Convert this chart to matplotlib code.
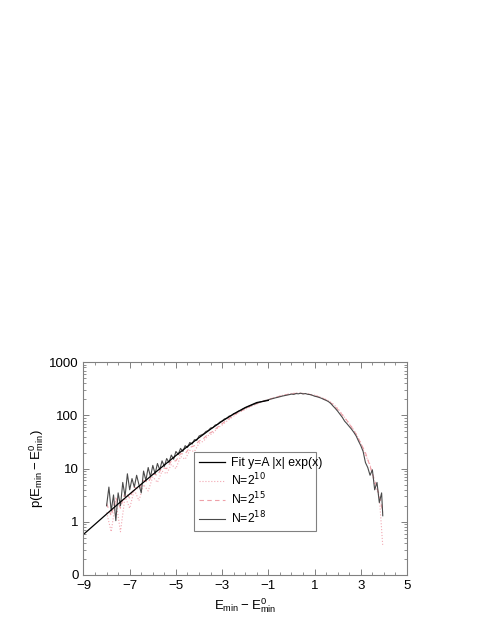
import numpy as np
import matplotlib
matplotlib.use("Agg")
import matplotlib.pyplot as plt
from matplotlib.ticker import MultipleLocator, FixedLocator, LogLocator, NullFormatter

plt.rcParams["font.family"] = ["Liberation Sans", "DejaVu Sans"]

# fit curve y = A |x| exp(x)
fit_x = [-9.0, -8.5, -8.0, -7.5, -7.0, -6.5, -6.0, -5.5, -5.0, -4.5,
         -4.0, -3.5, -3.0, -2.5, -2.0, -1.5, -1.0]
fit_y = [0.58, 0.90, 1.40, 2.17, 3.33, 5.10, 7.76, 11.7, 17.6, 26.1,
         38.2, 55.2, 78.0, 107, 141, 175, 192]

# N=2^18 (grey solid), bins of 0.1 from -8.0, last bin at 3.95
n18_x = list(np.round(np.arange(-8.0, 3.91, 0.1), 2)) + [3.95]
n18_y = [2.0, 4.5, 1.6, 3.2, 1.05, 3.5, 2.0, 5.5, 3.0, 8.0,
         4.0, 6.5, 4.5, 7.5, 5.0, 3.5, 9.0, 6.0, 10.5, 7.0,
         11.5, 8.0, 12.5, 9.5, 14.0, 11.0, 15.5, 13.0, 18.0, 15.0,
         21, 18.5, 24, 21, 27, 25, 31, 29, 35, 34,
         41, 43, 45, 50, 52, 58, 59, 66, 68, 75,
         79, 86, 89, 97, 99, 108, 111, 120, 123, 132,
         138, 145, 151, 157, 164, 170, 176, 181, 186, 192,
         197, 203, 208, 214, 219, 225, 231, 236, 241, 246,
         252, 249, 258, 255, 262, 254, 258, 250, 247, 240,
         230, 225, 218, 210, 200, 192, 182, 168, 150, 135,
         120, 105, 92, 78, 70, 62, 55, 48, 41, 33,
         27, 21, 13, 10.5, 7.5, 9.5, 4.0, 5.5, 2.3, 3.5,
         1.3]

# N=2^10 and N=2^15 (pink), bins of 0.2
n_x = list(np.round(np.arange(-8.0, 3.81, 0.2), 2)) + [3.95]
n10_y = [1.5, 0.65, 2.5, 0.65, 3.0, 1.8, 4.0, 2.5, 5.0, 3.8,
         7.0, 5.5, 9.0, 8.0, 12, 10, 17, 15, 22, 21,
         30, 33, 42, 46, 58, 66, 78, 90, 105, 118,
         130, 145, 158, 172, 185, 198, 212, 225, 238, 250,
         258, 265, 262, 258, 250, 240, 225, 208, 190, 165,
         135, 105, 80, 62, 45, 30, 18, 12, 5, 3,
         0.35]
n15_y = [2.2, 1.3, 2.8, 1.8, 3.6, 2.8, 4.5, 4.0, 6.0, 5.5,
         8.0, 7.5, 10.5, 10, 14, 14, 19, 19, 25, 27,
         33, 37, 45, 50, 60, 70, 82, 94, 108, 120,
         134, 148, 160, 174, 187, 200, 212, 224, 236, 246,
         254, 260, 260, 255, 248, 237, 222, 205, 185, 160,
         130, 102, 80, 60, 44, 30, 20, 11, 6, 3.2,
         1.5]

fig = plt.figure(figsize=(4.91, 6.35), dpi=100)
ax = fig.add_axes([0.170, 0.0945, 0.659, 0.335])

l10, = ax.plot(n_x, n10_y, color="#f2a8b2", linewidth=0.8, linestyle=":")
l15, = ax.plot(n_x, n15_y, color="#eea0a8", linewidth=0.8, linestyle=(0, (4, 3)))
l18, = ax.plot(n18_x, n18_y, color="#4a4a4a", linewidth=0.8)
lfit, = ax.plot(fit_x, fit_y, color="black", linewidth=0.9)

ax.set_yscale("log")
ax.set_xlim(-9, 5)
ax.set_ylim(0.1, 1000)

ax.xaxis.set_major_locator(FixedLocator([-9, -7, -5, -3, -1, 1, 3, 5]))
ax.set_xticklabels(["\u22129", "\u22127", "\u22125", "\u22123", "\u22121", "1", "3", "5"])
ax.xaxis.set_minor_locator(MultipleLocator(0.5))
ax.yaxis.set_major_locator(FixedLocator([0.1, 1, 10, 100, 1000]))
ax.set_yticklabels(["0", "1", "10", "100", "1000"])
ax.yaxis.set_minor_locator(LogLocator(base=10, subs=np.arange(2, 10)))
ax.yaxis.set_minor_formatter(NullFormatter())

ax.tick_params(which="both", direction="in", top=True, right=True,
               color="#808080", labelsize=9.5)
ax.tick_params(which="major", length=4, width=0.7)
ax.tick_params(which="minor", length=2, width=0.6)
for s in ax.spines.values():
    s.set_color("#808080")
    s.set_linewidth(0.8)

ax.set_xlabel(r"$\mathregular{E_{min}-E^0_{min}}$", fontsize=9.5, labelpad=3)
ax.set_ylabel(r"$\mathregular{p(E_{min}-E^0_{min})}$", fontsize=9.5, labelpad=2)

leg = ax.legend([lfit, l10, l15, l18],
                ["Fit y=A |x| exp(x)", r"N=2$^{10}$", r"N=2$^{15}$", r"N=2$^{18}$"],
                loc="lower left", bbox_to_anchor=(0.323, 0.177, 0.414, 0.298),
                mode="expand", fontsize=8.8, fancybox=False, framealpha=1,
                handlelength=2.1, borderpad=0.4, labelspacing=0.2, handletextpad=0.5)
leg.get_frame().set_edgecolor("#808080")
leg.get_frame().set_linewidth(0.8)

fig.savefig("out.png", dpi=100)
